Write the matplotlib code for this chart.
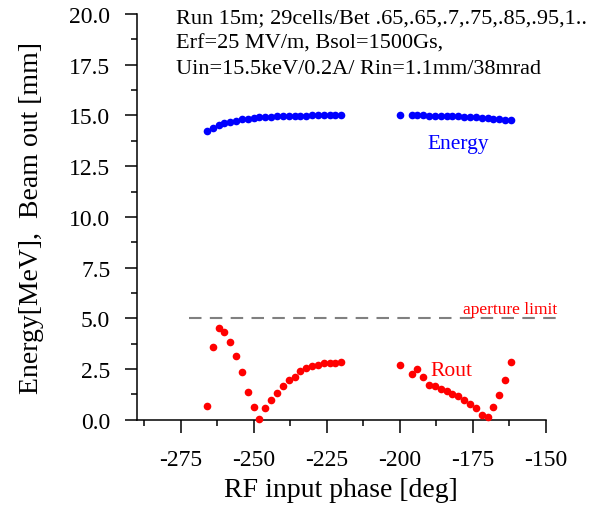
import numpy as np
from matplotlib import pyplot as plt
from matplotlib.ticker import MultipleLocator

# energy, left and right branch
phase_e1 = [-266, -264, -262, -260, -258, -256, -254, -252, -250, -248, -246, -244,
            -242, -240, -238, -236, -234, -232, -230, -228, -226, -224, -222, -220]
energy1 = [14.24, 14.39, 14.52, 14.62, 14.68, 14.75, 14.80, 14.83, 14.86, 14.90, 14.91, 14.93,
           14.95, 14.96, 14.97, 14.98, 14.99, 14.99, 15.00, 15.00, 15.00, 15.01, 15.01, 15.01]
phase_e2 = [-200, -196, -194, -192, -190, -188, -186, -184, -182, -180, -178, -176,
            -174, -172, -170, -168, -166, -164, -162]
energy2 = [15.00, 15.00, 15.00, 15.00, 14.99, 14.99, 14.98, 14.97, 14.96, 14.95, 14.94, 14.92,
           14.90, 14.88, 14.86, 14.84, 14.82, 14.79, 14.76]

# beam radius out
phase_r1 = phase_e1
rout1 = [0.69, 3.57, 4.53, 4.33, 3.82, 3.13, 2.34, 1.37, 0.63, 0.05, 0.59, 0.97,
         1.32, 1.68, 1.96, 2.12, 2.39, 2.54, 2.64, 2.69, 2.79, 2.82, 2.82, 2.83]
phase_r2 = phase_e2
rout2 = [2.72, 2.26, 2.48, 2.11, 1.70, 1.65, 1.52, 1.43, 1.28, 1.16, 0.99, 0.78,
         0.56, 0.25, 0.15, 0.63, 1.23, 1.96, 2.85]

aperture = 5.0

plt.rcParams['font.family'] = ['Liberation Serif', 'DejaVu Serif']
plt.rcParams['axes.unicode_minus'] = False

fig = plt.figure(figsize=(6.07, 5.10), dpi=100)
ax = fig.add_axes([0.2252, 0.175, 0.6743, 0.7956])

ms = 5.5
ax.plot(phase_e1, energy1, 'o', color='#0000ff', ms=ms, mec='none', clip_on=False)
ax.plot(phase_e2, energy2, 'o', color='#0000ff', ms=ms, mec='none', clip_on=False)
ax.plot(phase_r1, rout1, 'o', color='#ff0000', ms=ms, mec='none', clip_on=False, zorder=3)
ax.plot(phase_r2, rout2, 'o', color='#ff0000', ms=ms, mec='none', clip_on=False, zorder=3)
ax.plot([-272, -145], [aperture, aperture], color='#808080', lw=1.5,
        dashes=(6, 4), clip_on=False)

ax.text(-180, 13.6, "Energy", color='#0000ff', fontsize=15.5, ha='center', va='center')
ax.text(-182.5, 2.45, "Rout", color='#ff0000', fontsize=15.5, ha='center', va='center')
ax.text(-146, 5.05, "aperture limit", color='#ff0000', fontsize=12.5, ha='right', va='bottom')

fig.text(176 / 607, 1 - 9 / 510,
         "Run 15m; 29cells/Bet .65,.65,.7,.75,.85,.95,1..\n"
         "Erf=25 MV/m, Bsol=1500Gs,\n"
         "Uin=15.5keV/0.2A/ Rin=1.1mm/38mrad",
         fontsize=16, ha='left', va='top', linespacing=1.45)

ax.set_xlim(-290, -150)
ax.set_ylim(0, 20)
ax.xaxis.set_major_locator(MultipleLocator(25))
ax.xaxis.set_minor_locator(MultipleLocator(12.5))
ax.yaxis.set_major_locator(MultipleLocator(2.5))
ax.yaxis.set_minor_locator(MultipleLocator(1.25))
ax.yaxis.set_major_formatter(plt.FormatStrFormatter('%.1f'))

for s in ['top', 'right']:
    ax.spines[s].set_visible(False)
for s in ['left', 'bottom']:
    ax.spines[s].set_linewidth(1.1)
ax.tick_params(which='major', direction='out', length=9, width=1.1, labelsize=17)
ax.tick_params(which='minor', direction='out', length=4, width=1.1)
ax.tick_params(axis='x', which='major', pad=12)
ax.tick_params(axis='y', which='major', pad=10)

ax.set_xlabel("RF input phase [deg]", fontsize=20, labelpad=5)
ax.set_ylabel("Energy[MeV],  Beam out [mm]", fontsize=20, labelpad=18)

fig.savefig("out.png", dpi=100)
